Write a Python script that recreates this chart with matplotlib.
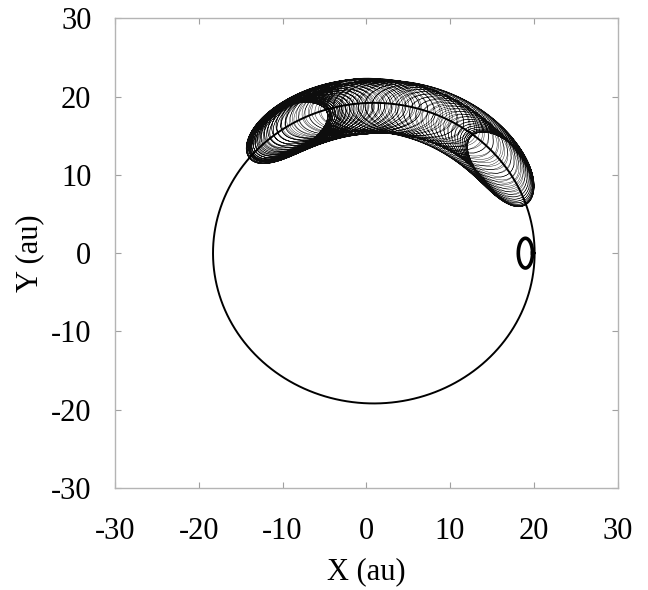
import numpy as np
import matplotlib
matplotlib.use("Agg")
import matplotlib.pyplot as plt

# ---- values ----
orbit_center = [0.9, 0.0]          # au, centre of the large circular orbit
orbit_radius = 19.2                # au
loop_center = [19.0, 0.0]          # au, small thick loop
loop_semi_axes = [0.85, 1.9]       # au (x, y)
libration_range_deg = [35.5, 123.5]   # guiding-centre angle extremes
guiding_radius = 18.8              # au
epicycle_radial = [2.7, 3.6]       # au, min / max radial excursion
epicycle_tangential_ratio = 1.9    # tangential / radial size of each loop
n_loops = 145                      # epicycle loops drawn
n_librations = 1.35                # libration cycles covered
n_ecc_cycles = 2.6                 # cycles of loop-size variation

xticks = [-30, -20, -10, 0, 10, 20, 30]
yticks = [-30, -20, -10, 0, 10, 20, 30]

plt.rcParams['font.family'] = ['Liberation Serif', 'DejaVu Serif']

fig = plt.figure(figsize=(6.48, 5.90), dpi=100)
ax = fig.add_axes([0.1775, 0.1729, 0.7755, 0.7961])

# big orbit
phi = np.linspace(0, 2 * np.pi, 720)
ax.plot(orbit_center[0] + orbit_radius * np.cos(phi),
        orbit_center[1] + orbit_radius * np.sin(phi),
        color='black', lw=1.4)

# small thick loop
ax.plot(loop_center[0] + loop_semi_axes[0] * np.cos(phi),
        loop_center[1] + loop_semi_axes[1] * np.sin(phi),
        color='black', lw=2.6)

# tadpole trajectory (guiding centre librating + epicycles)
u = np.linspace(0, 1, n_loops * 180)
th_mid = np.deg2rad(np.mean(libration_range_deg))
th_amp = np.deg2rad((libration_range_deg[1] - libration_range_deg[0]) / 2)
th_g = th_mid + th_amp * np.sin(2 * np.pi * n_librations * u + 0.3)
ar = np.mean(epicycle_radial) + (epicycle_radial[1] - epicycle_radial[0]) / 2 * np.cos(2 * np.pi * n_ecc_cycles * u)
ph = 2 * np.pi * n_loops * u
r = guiding_radius - ar * np.cos(ph)
th = th_g + epicycle_tangential_ratio * ar * np.sin(ph) / guiding_radius
ax.plot(orbit_center[0] + r * np.cos(th), orbit_center[1] + r * np.sin(th),
        color='black', lw=0.3, alpha=0.95)

ax.set_xlim(-30, 30)
ax.set_ylim(-30, 30)
ax.set_xticks(xticks)
ax.set_yticks(yticks)
ax.set_xticklabels([str(v) for v in xticks])
ax.set_yticklabels([str(v) for v in yticks])
for s in ax.spines.values():
    s.set_color('#b4b4b4')
    s.set_linewidth(1.0)
ax.tick_params(direction='in', length=4, width=0.8, color='#a0a0a0',
               top=True, right=True, labelsize=22)
ax.tick_params(axis='x', pad=21)
ax.tick_params(axis='y', pad=17)
ax.set_xlabel('X (au)', fontsize=22, labelpad=8)
ax.set_ylabel('Y (au)', fontsize=22, labelpad=5)

fig.savefig('out.png', dpi=100)
